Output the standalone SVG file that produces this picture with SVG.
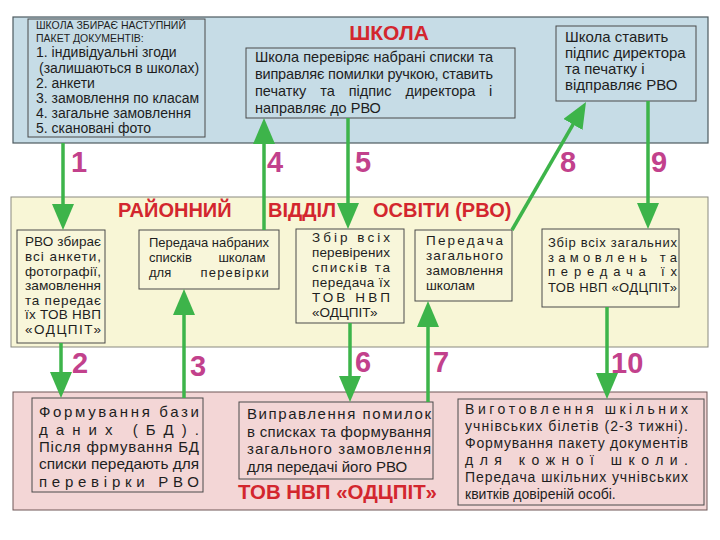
<svg xmlns="http://www.w3.org/2000/svg" width="720" height="540" viewBox="0 0 720 540">
<style>
.t{font-family:"Liberation Sans",Arial,sans-serif;fill:#1e1e1e}
.ttl{font-family:"Liberation Sans",Arial,sans-serif;font-weight:bold;fill:#d3262e}
.num{font-family:"Liberation Sans",Arial,sans-serif;font-weight:bold;font-size:29px;fill:#c2418c}
.box{stroke:#4a4a4a;stroke-width:1}
.arr{stroke:#3db44a;stroke-width:3.5;fill:none;marker-end:url(#ah)}
</style>
<defs>
<marker id="ah" markerUnits="userSpaceOnUse" markerWidth="26" markerHeight="22" refX="14" refY="11" orient="auto" viewBox="0 0 26 22">
<path d="M0,0 L26,11 L0,22 z" fill="#3db44a"/>
</marker>
</defs>
<rect width="720" height="540" fill="#ffffff"/>

<g id="band-school">
<rect x="13" y="17" width="695" height="126" fill="#c6dce6" stroke="#4d5a60" stroke-width="1.2"/>
<text class="ttl" x="389" y="40" font-size="21" text-anchor="middle">ШКОЛА</text>
</g>
<g id="band-rvo">
<rect x="11" y="197" width="697" height="150" fill="#f8f6d6" stroke="#8a8a80" stroke-width="1"/>
<text class="ttl" y="217" font-size="20"><tspan x="118">РАЙОННИЙ</tspan><tspan x="262.5"> ВІДДІЛ</tspan><tspan x="367.5"> ОСВІТИ (РВО)</tspan></text>
</g>
<g id="band-odcpit">
<rect x="13" y="392" width="694" height="118" fill="#f3d6d6" stroke="#6e5656" stroke-width="1"/>
<text class="ttl" x="238" y="499" font-size="20.5" textLength="199" lengthAdjust="spacingAndGlyphs">ТОВ НВП «ОДЦПІТ»</text>
</g>

<g id="node-school-package">
<rect class="box" x="28" y="19" width="177" height="118" fill="#c6dce6"/>
<text class="t" font-size="10.5"><tspan x="36" y="29">ШКОЛА ЗБИРАЄ НАСТУПНИЙ</tspan><tspan x="36" y="42">ПАКЕТ ДОКУМЕНТІВ:</tspan></text>
<text class="t" font-size="14"><tspan x="36" y="57">1. індивідуальні згоди</tspan><tspan x="39" y="73">(залишаються в школах)</tspan><tspan x="36" y="88">2. анкети</tspan><tspan x="36" y="103">3. замовлення по класам</tspan><tspan x="36" y="118">4. загальне замовлення</tspan><tspan x="36" y="133">5. скановані фото</tspan></text>
</g>

<g id="node-school-check">
<rect class="box" x="246" y="48" width="269" height="70" fill="#c6dce6"/>
<text class="t" font-size="14.5"><tspan x="255" y="62" textLength="238" lengthAdjust="spacing">Школа перевіряє набрані списки та</tspan></text>
<text class="t" font-size="14.5"><tspan x="255" y="79" textLength="238" lengthAdjust="spacing">виправляє помилки ручкою, ставить</tspan></text>
<text class="t" font-size="14.5" word-spacing="10"><tspan x="255" y="96">печатку та підпис директора</tspan><tspan x="489" y="96">і</tspan></text>
<text class="t" font-size="14.5"><tspan x="255" y="113">направляє до РВО</tspan></text>
</g>

<g id="node-school-sign">
<rect class="box" x="556" y="26" width="140" height="75" fill="#c6dce6"/>
<text class="t" font-size="15"><tspan x="565" y="42">Школа ставить</tspan><tspan x="565" y="58">підпис директора</tspan><tspan x="565" y="74">та печатку і</tspan><tspan x="565" y="90">відправляє РВО</tspan></text>
</g>

<g id="node-rvo-collect">
<rect class="box" x="17" y="230" width="88" height="113" fill="#f8f6da" stroke="#777"/>
<text class="t" font-size="13.5">
<tspan x="25" y="246" textLength="76" lengthAdjust="spacing">РВО збирає</tspan>
<tspan x="25" y="261" textLength="76" lengthAdjust="spacing">всі  анкети,</tspan>
<tspan x="25" y="276" textLength="76" lengthAdjust="spacing">фотографії,</tspan>
<tspan x="25" y="290" textLength="76" lengthAdjust="spacingAndGlyphs">замовлення</tspan>
<tspan x="25" y="305" textLength="76" lengthAdjust="spacing">та  передає</tspan>
<tspan x="25" y="319" textLength="76" lengthAdjust="spacing">їх ТОВ НВП</tspan>
<tspan x="25" y="334" textLength="76" lengthAdjust="spacing">«ОДЦПІТ»</tspan>
</text>
</g>

<g id="node-rvo-transfer-lists">
<rect class="box" x="139" y="230" width="140" height="59" fill="#f8f6da" stroke="#777"/>
<text class="t" font-size="13">
<tspan x="149" y="247" textLength="120" lengthAdjust="spacing">Передача набраних</tspan>
<tspan x="149" y="262">списків</tspan><tspan x="269" y="262" text-anchor="end">школам</tspan>
<tspan x="149" y="277">для</tspan><tspan x="270" y="277" text-anchor="end" letter-spacing="1.2">перевірки</tspan>
</text>
</g>

<g id="node-rvo-collect-checked">
<rect class="box" x="296" y="229" width="108" height="94" fill="#f8f6da" stroke="#777"/>
<text class="t" font-size="13.5">
<tspan x="312" y="242" textLength="78" lengthAdjust="spacing">Збір всіх</tspan>
<tspan x="312" y="257" textLength="78" lengthAdjust="spacing">перевірених</tspan>
<tspan x="312" y="272" textLength="78" lengthAdjust="spacing">списків  та</tspan>
<tspan x="312" y="287" textLength="78" lengthAdjust="spacing">передача їх</tspan>
<tspan x="312" y="302" textLength="78" lengthAdjust="spacing">ТОВ НВП</tspan>
<tspan x="312" y="317">«ОДЦПІТ»</tspan>
</text>
</g>

<g id="node-rvo-transfer-order">
<rect class="box" x="415" y="230" width="97" height="71" fill="#f8f6da"/>
<text class="t" font-size="13.5">
<tspan x="426" y="245" textLength="77" lengthAdjust="spacing">Передача</tspan>
<tspan x="426" y="260" textLength="77" lengthAdjust="spacing">загального</tspan>
<tspan x="426" y="275" textLength="77" lengthAdjust="spacing">замовлення</tspan>
<tspan x="426" y="290">школам</tspan>
</text>
</g>

<g id="node-rvo-collect-orders">
<rect class="box" x="542" y="229" width="137" height="78" fill="#f8f6da" stroke="#999"/>
<text class="t" font-size="13">
<tspan x="548" y="247" textLength="129" lengthAdjust="spacing">Збір всіх загальних</tspan>
<tspan x="548" y="262" textLength="129" lengthAdjust="spacing">замовлень  та</tspan>
<tspan x="548" y="276" textLength="129" lengthAdjust="spacing">передача  їх</tspan>
<tspan x="548" y="292" textLength="129" lengthAdjust="spacing">ТОВ НВП «ОДЦПІТ»</tspan>
</text>
</g>

<g id="node-odcpit-db">
<rect class="box" x="32" y="398" width="171" height="94" fill="#f3d6d6" stroke="#5a4646"/>
<text class="t" font-size="15">
<tspan x="39" y="417" textLength="160" lengthAdjust="spacing">Формування  бази</tspan>
<tspan x="39" y="435" textLength="160" lengthAdjust="spacing">даних (БД).</tspan>
<tspan x="39" y="452" textLength="160" lengthAdjust="spacing">Після фрмування БД</tspan>
<tspan x="39" y="469" textLength="160" lengthAdjust="spacingAndGlyphs">списки передають для</tspan>
<tspan x="39" y="487" textLength="160" lengthAdjust="spacing">перевірки  РВО</tspan>
</text>
</g>

<g id="node-odcpit-fix">
<rect class="box" x="239" y="402" width="194" height="77" fill="#f3d6d6" stroke="#5a4646"/>
<text class="t" font-size="15">
<tspan x="247" y="419" textLength="184" lengthAdjust="spacing">Виправлення   помилок</tspan>
<tspan x="247" y="437" textLength="184" lengthAdjust="spacing">в списках та формування</tspan>
<tspan x="247" y="454" textLength="184" lengthAdjust="spacing">загального   замовлення</tspan>
<tspan x="247" y="472">для передачі його РВО</tspan>
</text>
</g>

<g id="node-odcpit-tickets">
<rect class="box" x="458" y="399" width="246" height="106" fill="#f3d6d6" stroke="#5a4646"/>
<text class="t" font-size="14">
<tspan x="465" y="414" textLength="223" lengthAdjust="spacing">Виготовлення  шкільних</tspan>
<tspan x="465" y="431" textLength="223" lengthAdjust="spacing">учнівських білетів (2-3 тижні).</tspan>
<tspan x="465" y="448" textLength="223" lengthAdjust="spacing">Формування пакету документів</tspan>
<tspan x="465" y="465" textLength="223" lengthAdjust="spacing">для  кожної  школи.</tspan>
<tspan x="465" y="482" textLength="223" lengthAdjust="spacing">Передача шкільних учнівських</tspan>
<tspan x="465" y="499">квитків довіреній особі.</tspan>
</text>
</g>

<g id="connectors">
<path class="arr" d="M63,143 V218"/>
<path class="arr" d="M264,230 V130"/>
<path class="arr" d="M348,118 V217"/>
<path class="arr" d="M512,230 L580,112.4"/>
<path class="arr" d="M648,101 V217"/>
<path class="arr" d="M61,343 V386"/>
<path class="arr" d="M184,398 V301"/>
<path class="arr" d="M350,323 V390"/>
<path class="arr" d="M428,402 V313"/>
<path class="arr" d="M607,307 V387"/>
</g>

<g id="labels">
<text class="num" x="71" y="172">1</text>
<text class="num" x="267" y="172">4</text>
<text class="num" x="355" y="172">5</text>
<text class="num" x="560" y="172">8</text>
<text class="num" x="651" y="172">9</text>
<text class="num" x="72" y="373">2</text>
<text class="num" x="190" y="376">3</text>
<text class="num" x="355" y="372">6</text>
<text class="num" x="433" y="372">7</text>
<text class="num" x="611" y="373">10</text>
</g>
</svg>
